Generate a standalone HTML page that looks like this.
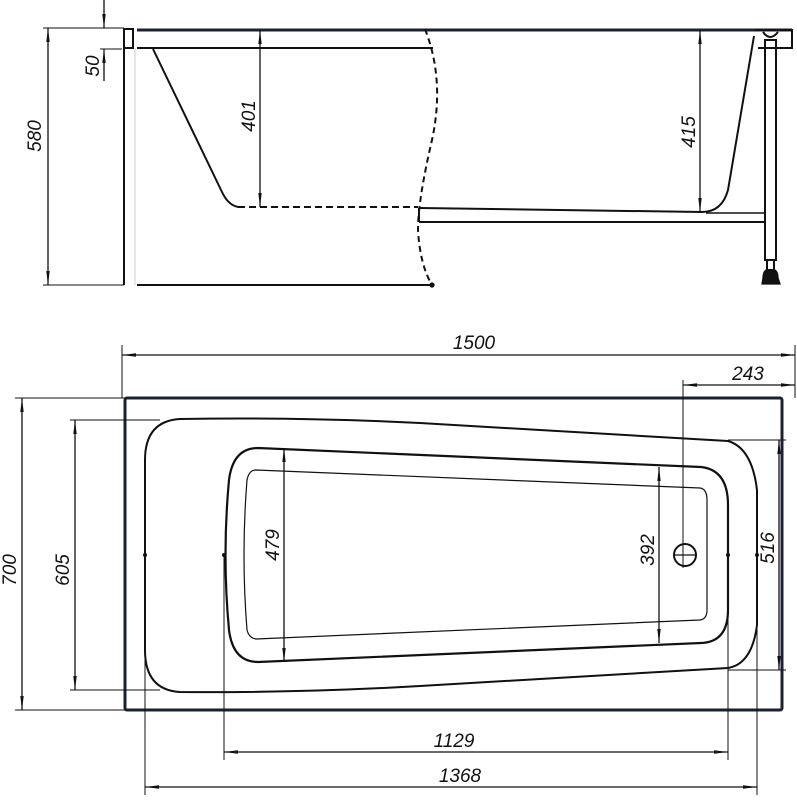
<!DOCTYPE html>
<html><head><meta charset="utf-8"><style>
html,body{margin:0;padding:0;background:#fff;}
svg{display:block;}
text{font-family:"Liberation Sans",sans-serif;font-style:italic;font-size:19px;fill:#111;}
</style></head><body>
<svg width="797" height="800" viewBox="0 0 797 800" xmlns="http://www.w3.org/2000/svg">
<defs>
<marker id="a" markerWidth="14" markerHeight="6" refX="14" refY="3" orient="auto-start-reverse" markerUnits="userSpaceOnUse">
<path d="M0,1.3 L14,3 L0,4.7 Z" fill="#111"/></marker>
</defs>
<g stroke="#111" fill="none" stroke-width="1.3">
<line x1="137" y1="30" x2="792" y2="30" stroke-width="3" stroke="#1a2230"/>
<line x1="137" y1="48" x2="433" y2="48" stroke-width="2"/>
<rect x="124" y="29" width="9" height="19" stroke-width="2"/>
<line x1="124" y1="29" x2="124" y2="285" stroke-width="2"/>
<line x1="135" y1="48" x2="135" y2="285" stroke="#ccc" stroke-width="1"/>
<line x1="137" y1="285" x2="432" y2="285" stroke-width="2"/>
<circle cx="432" cy="285" r="2" fill="#111"/>
<path d="M153,49 L222,192 Q228,205 238,207" stroke-width="2"/>
<line x1="238" y1="207" x2="418" y2="207" stroke-width="2" stroke-dasharray="7,4"/>
<path d="M425,29 Q445,80 432,140 Q418,200 418,230 Q420,265 432,285" stroke-width="2" stroke-dasharray="6,4"/>
<path d="M420,208 L702,212 Q722,212 728,190 L754,36" stroke-width="2"/>
<line x1="419" y1="222" x2="765" y2="222" stroke-width="2"/>
<line x1="419" y1="208" x2="419" y2="222" stroke-width="2"/>
<line x1="706" y1="213" x2="765" y2="213" stroke-width="1.5"/>
<path d="M755,30 L792,30 L792,48 L758,48" stroke-width="2"/>
<rect x="765" y="40" width="11" height="220" stroke-width="2"/>
<path d="M763,32 Q770,42 778,32" stroke-width="2"/>
<rect x="767" y="260" width="7" height="10" stroke-width="2"/>
<path d="M766,270 L775,270 Q778,272 778,278 L780,284 L762,284 L763,278 Q763,272 766,270 Z" fill="#111"/>
<line x1="43" y1="28" x2="124" y2="28" stroke-width="1"/>
<line x1="43" y1="285" x2="124" y2="285" stroke-width="1"/>
<line x1="48" y1="28" x2="48" y2="285" marker-start="url(#a)" marker-end="url(#a)"/>
<line x1="100" y1="49" x2="122" y2="49" stroke-width="1"/>
<line x1="104" y1="0" x2="104" y2="28" marker-end="url(#a)"/>
<line x1="104" y1="81" x2="104" y2="49" marker-end="url(#a)"/>
<line x1="260" y1="30" x2="260" y2="207" marker-start="url(#a)" marker-end="url(#a)"/>
<line x1="700" y1="30" x2="700" y2="212" marker-start="url(#a)" marker-end="url(#a)"/>

<rect x="125" y="398" width="657" height="312" rx="2" stroke-width="3" stroke="#1a2230"/>
<path d="M180,419 Q300,417 420,423 L728,441 Q752,448 757,490 L757,625 Q752,664 728,668 L420,686 Q300,693 180,692 Q145,690 145,650 L145,460 Q145,421 180,419 Z" stroke-width="2"/>
<path d="M258,448 L701,467 Q728,470 728,505 L728,610 Q728,642 701,643 L258,662 Q233,662 229,630 Q222,555 229,480 Q233,448 258,448 Z" stroke-width="2.2"/>
<path d="M256,470 L700,488 Q707,489 707,500 L707,610 Q707,619 700,620 L256,639 Q249,638 247,630 Q241,555 247,480 Q249,470 256,470 Z" stroke-width="1.2"/>
<circle cx="685" cy="555" r="11" stroke-width="2"/>
<line x1="674" y1="555" x2="696" y2="555"/>
<g fill="#111" stroke="none">
<circle cx="145" cy="555" r="2"/><circle cx="224" cy="555" r="2"/><circle cx="728" cy="555" r="2"/><circle cx="757" cy="555" r="2"/>
</g>
<line x1="122" y1="345" x2="122" y2="398" stroke-width="1"/>
<line x1="795" y1="345" x2="795" y2="398" stroke-width="1"/>
<line x1="122" y1="355" x2="795" y2="355" marker-start="url(#a)" marker-end="url(#a)"/>
<line x1="683" y1="380" x2="683" y2="568" stroke-width="1"/>
<line x1="683" y1="385" x2="795" y2="385" marker-start="url(#a)" marker-end="url(#a)"/>
<line x1="15" y1="398" x2="125" y2="398" stroke-width="1"/>
<line x1="15" y1="710" x2="125" y2="710" stroke-width="1"/>
<line x1="22" y1="398" x2="22" y2="710" marker-start="url(#a)" marker-end="url(#a)"/>
<line x1="70" y1="420" x2="160" y2="420" stroke-width="1"/>
<line x1="70" y1="690" x2="160" y2="690" stroke-width="1"/>
<line x1="75" y1="420" x2="75" y2="690" marker-start="url(#a)" marker-end="url(#a)"/>
<line x1="284" y1="448" x2="284" y2="662" marker-start="url(#a)" marker-end="url(#a)"/>
<line x1="659" y1="467" x2="659" y2="643" marker-start="url(#a)" marker-end="url(#a)"/>
<line x1="728" y1="440" x2="786" y2="440" stroke-width="1"/>
<line x1="728" y1="670" x2="786" y2="670" stroke-width="1"/>
<line x1="779" y1="440" x2="779" y2="670" marker-start="url(#a)" marker-end="url(#a)"/>
<line x1="224" y1="555" x2="224" y2="760" stroke-width="1"/>
<line x1="728" y1="555" x2="728" y2="760" stroke-width="1"/>
<line x1="224" y1="752" x2="728" y2="752" marker-start="url(#a)" marker-end="url(#a)"/>
<line x1="145" y1="555" x2="145" y2="795" stroke-width="1"/>
<line x1="757" y1="555" x2="757" y2="795" stroke-width="1"/>
<line x1="145" y1="787" x2="757" y2="787" marker-start="url(#a)" marker-end="url(#a)"/>
</g>
<g>
<text transform="translate(41,136) rotate(-90)" text-anchor="middle">580</text>
<text transform="translate(99,66) rotate(-90)" text-anchor="middle">50</text>
<text transform="translate(255,116) rotate(-90)" text-anchor="middle">401</text>
<text transform="translate(695,132) rotate(-90)" text-anchor="middle">415</text>
<text x="474" y="349" text-anchor="middle">1500</text>
<text x="748" y="380" text-anchor="middle">243</text>
<text transform="translate(16,570) rotate(-90)" text-anchor="middle">700</text>
<text transform="translate(69,570) rotate(-90)" text-anchor="middle">605</text>
<text transform="translate(279,545) rotate(-90)" text-anchor="middle">479</text>
<text transform="translate(654,550) rotate(-90)" text-anchor="middle">392</text>
<text transform="translate(774,548) rotate(-90)" text-anchor="middle">516</text>
<text x="454" y="747" text-anchor="middle">1129</text>
<text x="460" y="782" text-anchor="middle">1368</text>
</g>
</svg>
</body></html>
